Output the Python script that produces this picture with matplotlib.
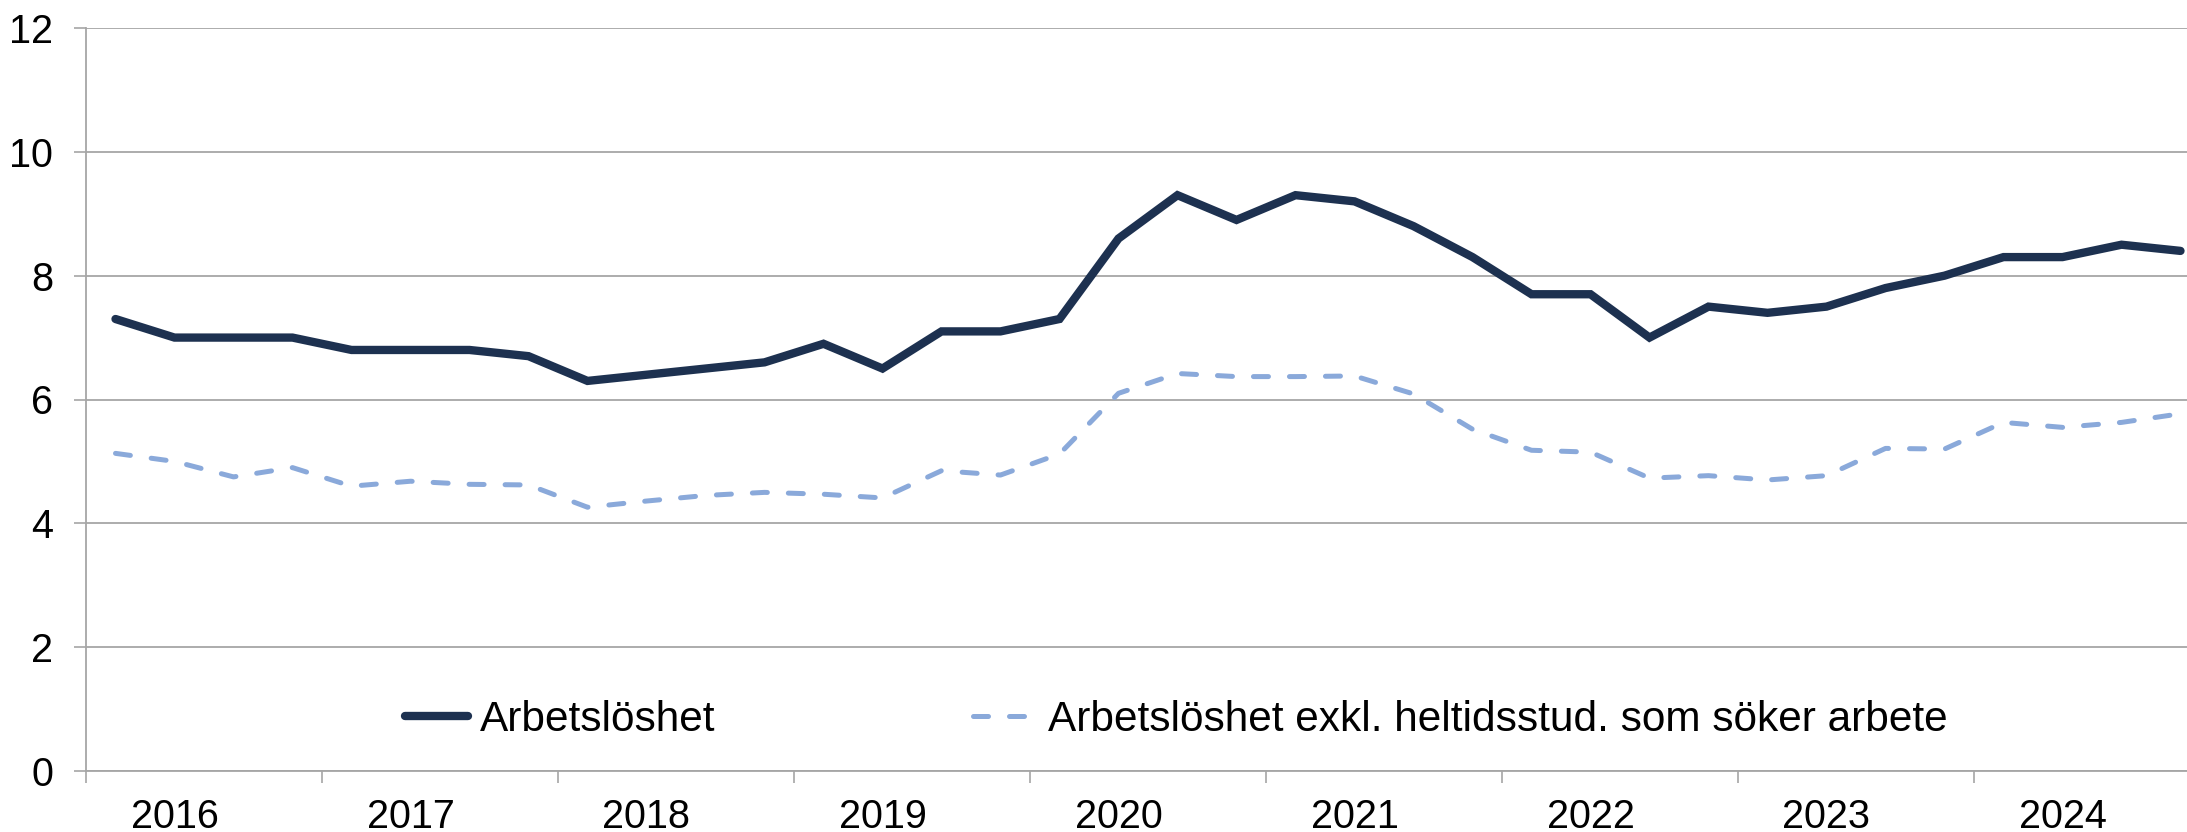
import matplotlib
matplotlib.use("Agg")
import matplotlib.pyplot as plt
import numpy as np

plt.rcParams['font.family'] = ['Liberation Sans', 'DejaVu Sans']

years = ['2016', '2017', '2018', '2019', '2020', '2021', '2022', '2023', '2024']

arbetsloshet = [7.3, 7.0, 7.0, 7.0, 6.8, 6.8, 6.8, 6.7,
                6.3, 6.4, 6.5, 6.6, 6.9, 6.5, 7.1, 7.1,
                7.3, 8.6, 9.3, 8.9, 9.3, 9.2, 8.8, 8.3,
                7.7, 7.7, 7.0, 7.5, 7.4, 7.5, 7.8, 8.0,
                8.3, 8.3, 8.5, 8.4]

exkl_studenter = [5.13, 5.0, 4.75, 4.9, 4.6, 4.68, 4.63, 4.62,
                  4.26, 4.36, 4.45, 4.5, 4.47, 4.41, 4.85, 4.78,
                  5.12, 6.1, 6.42, 6.37, 6.37, 6.38, 6.09, 5.52,
                  5.18, 5.15, 4.73, 4.77, 4.70, 4.77, 5.21, 5.2,
                  5.63, 5.55, 5.63, 5.77]

labels = ['Arbetslöshet', 'Arbetslöshet exkl. heltidsstud. som söker arbete']

W, H = 2187, 832
fig = plt.figure(figsize=(W / 100, H / 100), dpi=100)
left, right, top, bottom = 86, 2210, 28, 771
ax = fig.add_axes([left / W, 1 - bottom / H, (right - left) / W, (bottom - top) / H])

x = np.arange(len(arbetsloshet))
dark = '#1d3150'
light = '#8aa9da'
grid = '#a6a6a6'

l1, = ax.plot(x, arbetsloshet, color=dark, lw=6.0, solid_capstyle='round',
              solid_joinstyle='miter', zorder=3)
l2, = ax.plot(x, exkl_studenter, color=light, lw=3.6, linestyle=(0, (3.0, 4.2)),
              dash_capstyle='round', zorder=3)

ax.set_xlim(-0.5, len(x) - 0.5)
ax.set_ylim(0, 12)
ax.set_yticks(np.arange(0, 13, 2))
ax.set_yticklabels([str(v) for v in range(0, 13, 2)])
ax.yaxis.grid(True, color=grid, lw=1.3)
ax.set_axisbelow(True)

# year boundaries as major ticks, labels as minor ticks
ax.set_xticks(np.arange(-0.5, len(x), 4))
ax.set_xticklabels([])
ax.set_xticks(np.arange(1.0, len(x), 4), minor=True)
ax.set_xticklabels(years, minor=True)

ax.tick_params(axis='x', which='major', length=8.5, width=1.2, color=grid, direction='out')
ax.tick_params(axis='x', which='minor', length=0, pad=19.5, labelsize=28.5)
ax.tick_params(axis='y', which='major', length=8.5, width=1.2, color=grid,
               direction='out', pad=15, labelsize=28.5)

for s in ['top', 'right']:
    ax.spines[s].set_visible(False)
for s in ['left', 'bottom']:
    ax.spines[s].set_color(grid)
    ax.spines[s].set_linewidth(1.3)

fig.legend([l1, l2], labels, loc='center left',
           bbox_to_anchor=(405 / W, 1 - 720 / H), ncol=2, frameon=False,
           fontsize=30.5, handlelength=1.49, handletextpad=0.27, columnspacing=6.1,
           borderpad=0, borderaxespad=0)

fig.savefig('out.png', dpi=100)
